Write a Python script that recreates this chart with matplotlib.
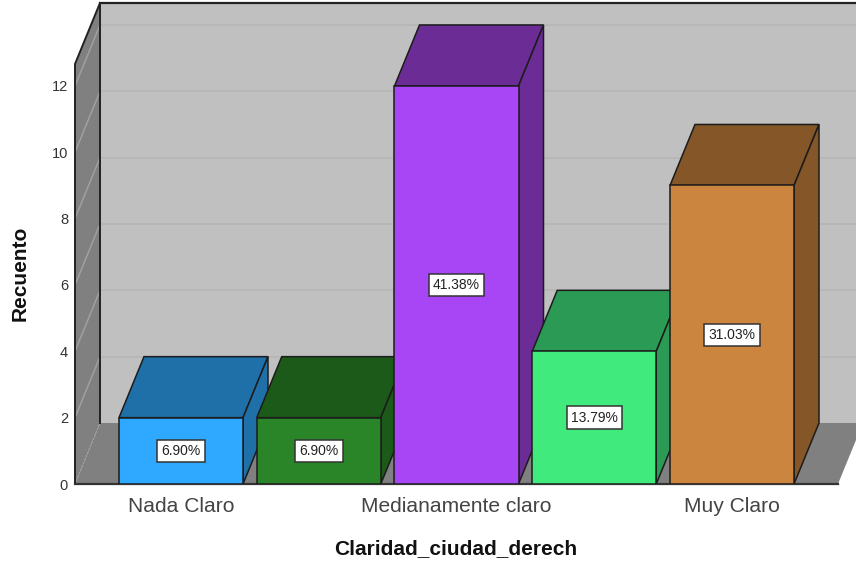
import matplotlib
matplotlib.use('Agg')
import matplotlib.pyplot as plt
from matplotlib.patches import Polygon

plt.rcParams['font.family'] = ['Liberation Sans', 'DejaVu Sans']

positions = [0, 1, 2, 3, 4]
counts = [2, 2, 12, 4, 9]
percent_labels = ['6.90%', '6.90%', '41.38%', '13.79%', '31.03%']
front_colors = ['#2fa9ff', '#2a8528', '#a846f5', '#40ea7c', '#cb853f']
shade_colors = ['#1f6fa8', '#1b5a19', '#6b2c96', '#2a9a55', '#845628']
tick_positions = [0, 2, 4]
tick_names = ['Nada Claro', 'Medianamente claro', 'Muy Claro']
y_ticks = [0, 2, 4, 6, 8, 10, 12]

W, H = 856, 564
cat_px = 137.75
unit_px = 33.17
depth_x = 25 / cat_px
depth_y = 61 / unit_px
bar_width = 124 / cat_px
bar_x0 = -(181 - 75) / cat_px
bar_x1 = (838 - 181) / cat_px
top_y = (484 - 3) / unit_px
edge = '#1c1c1c'

fig = plt.figure(figsize=(W / 100, H / 100), dpi=100)
ax = fig.add_axes([75 / W, (H - 484) / H, (W - 75) / W, 481 / H])
ax.set_xlim(bar_x0, (W - 181) / cat_px)
ax.set_ylim(0, top_y)
for spine in ax.spines.values():
    spine.set_visible(False)

# back wall, side wall and floor
wall_top = top_y - depth_y
ax.add_patch(Polygon([(bar_x0 + depth_x, depth_y), (bar_x1 + depth_x, depth_y),
                      (bar_x1 + depth_x, top_y), (bar_x0 + depth_x, top_y)],
                     fc='#c0c0c0', ec='none', zorder=1))
ax.add_patch(Polygon([(bar_x0, 0), (bar_x0 + depth_x, depth_y), (bar_x0 + depth_x, top_y),
                      (bar_x0, wall_top)], fc='#808080', ec='none', zorder=1))
ax.add_patch(Polygon([(bar_x0, 0), (bar_x1, 0), (bar_x1 + depth_x, depth_y),
                      (bar_x0 + depth_x, depth_y)], fc='#808080', ec='none', zorder=1))

# grid goes along the back wall and down the side wall
for t in y_ticks[1:]:
    ax.plot([bar_x0 + depth_x, bar_x1 + depth_x], [t + depth_y, t + depth_y],
            color='#b6b6b6', lw=1.2, zorder=2)
    ax.plot([bar_x0, bar_x0 + depth_x], [t, t + depth_y], color='#a0a0a0', lw=1.1, zorder=2)
ax.plot([bar_x0, bar_x0 + depth_x], [0, depth_y], color='#a0a0a0', lw=1, ls=':', zorder=2)

# outline of the box
ax.plot([bar_x0 + depth_x, bar_x0 + depth_x], [depth_y, top_y], color='#222222', lw=1.4, zorder=3)
ax.plot([bar_x0 + depth_x, bar_x1 + depth_x], [top_y, top_y], color='#222222', lw=1.6, zorder=3,
        clip_on=False)
ax.plot([bar_x0, bar_x0, bar_x0 + depth_x], [0, wall_top, top_y], color='#222222', lw=1.4, zorder=3,
        clip_on=False)
ax.plot([bar_x0, bar_x1], [0, 0], color='#333333', lw=1.6, zorder=3, clip_on=False)

# bars from left to right so the next one covers the previous side
for i, x in enumerate(positions):
    z = 4 + i
    left = x - bar_width / 2
    right = x + bar_width / 2
    h = counts[i]
    ax.add_patch(Polygon([(left, h), (right, h), (right + depth_x, h + depth_y),
                          (left + depth_x, h + depth_y)],
                         fc=shade_colors[i], ec=edge, lw=1.1, zorder=z))
    ax.add_patch(Polygon([(right, 0), (right + depth_x, depth_y), (right + depth_x, h + depth_y),
                          (right, h)], fc=shade_colors[i], ec=edge, lw=1.1, zorder=z))
    ax.bar(x, h, width=bar_width, color=front_colors[i], edgecolor=edge, linewidth=1.1, zorder=z)
    ax.text(x, h / 2, percent_labels[i], ha='center', va='center', fontsize=10, color='#222222',
            zorder=20, bbox=dict(boxstyle='square,pad=0.3', fc='white', ec='#333333', lw=1.1))

ax.set_yticks(y_ticks)
ax.set_xticks(tick_positions)
ax.set_xticklabels(tick_names, fontsize=15.1, color='#444444')
ax.tick_params(axis='x', length=0, pad=9)
ax.tick_params(axis='y', length=0, pad=5, labelsize=10.5, labelcolor='#333333')

fig.text(456 / W, 1 - 549 / H, 'Claridad_ciudad_derech', fontsize=15, fontweight='bold',
         ha='center', va='center', color='#111111')
fig.text(20 / W, 1 - 273 / H, 'Recuento', fontsize=15, fontweight='bold', rotation=90,
         ha='center', va='center', color='#111111')

fig.savefig('out.png', dpi=100)
